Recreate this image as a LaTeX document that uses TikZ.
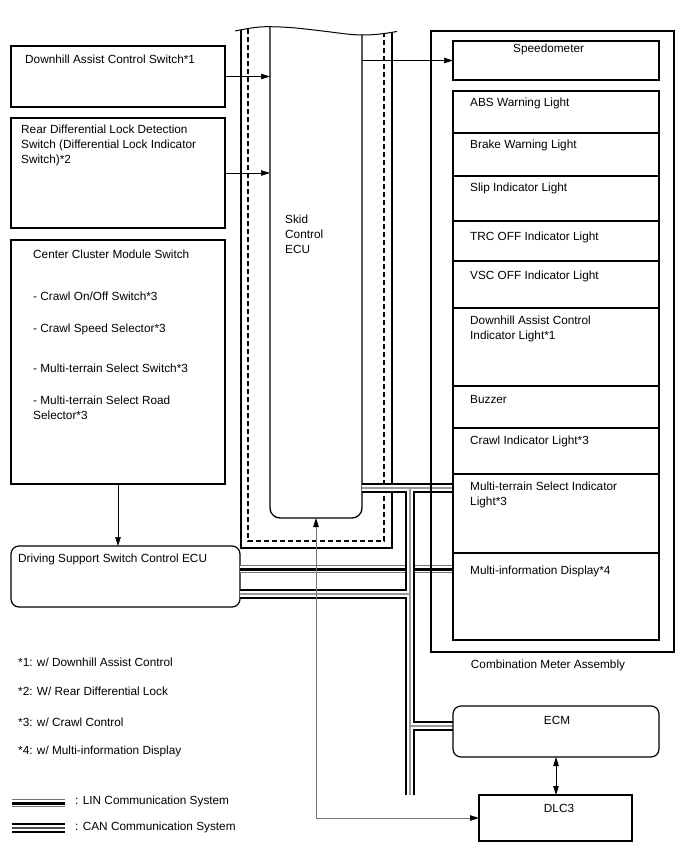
\documentclass[tikz,border=0pt]{standalone}
\usepackage{fontspec}
\setmainfont{Liberation Sans}
\usetikzlibrary{positioning,arrows.meta,calc}

\tikzset{
  box/.style={draw, line width=1.2pt, inner sep=0pt, outer sep=0pt, anchor=north west},
  rbox/.style={box, rounded corners=8pt},
  lbl/.style={inner sep=0pt, anchor=west, font=\fontsize{11.8}{14.8}\selectfont},
  mlbl/.style={lbl, anchor=north west, align=left},
  ctip/.tip={Triangle[length=9pt,width=5.5pt,color=black]},
  arr/.style={line width=0.7pt, -{ctip}},
}

\begin{document}
\begin{tikzpicture}[x=1pt,y=-1pt]
\useasboundingbox (0,0) rectangle (688,852);

% switches on the left
\node[box, minimum width=214, minimum height=61] (dacsw) at (11,46) {};
\node[box, minimum width=214, minimum height=110] (rdlsw) at (11,118) {};
\node[box, minimum width=214, minimum height=244] (ccsw) at (11,240) {};
\node[rbox, minimum width=229, minimum height=61] (dssecu) at (11,546) {};

\node[lbl] (dacswtxt) at (25,59) {Downhill Assist Control Switch*1};
\node[mlbl] (rdlswtxt) at (21,125) {Rear Differential Lock Detection\\Switch (Differential Lock Indicator\\Switch)*2};
\node[lbl] (ccswtxt) at (33,254) {Center Cluster Module Switch};
\foreach \y/\t [count=\k] in {296/{- Crawl On/Off Switch*3}, 329/{- Crawl Speed Selector*3}, 368/{- Multi-terrain Select Switch*3}} {
  \node[lbl] (ccitem\k) at (33,\y) {\t};
}
\node[mlbl] (ccitem4) at (33,396) {- Multi-terrain Select Road\\Selector*3};
\node[lbl] (dssecutxt) at (18,559) {Driving Support Switch Control ECU};

% skid control ECU
\node[inner sep=0pt, outer sep=0pt, minimum width=92, minimum height=491, anchor=north west] (skid) at (270,27) {};
\draw[line width=1.3pt] (241,29.8) -- (241,548) -- (392,548) -- (392,32.3);
\draw[line width=1.1pt, dash pattern=on 5pt off 3pt] (248,29) -- (248,541) -- (384,541) -- (384,33.5);
\draw[line width=1.3pt, rounded corners=10pt] (skid.north west) -- (skid.south west) -- (skid.south east) -- (362,35);
\draw[line width=1pt] (235,31) .. controls (250,28) and (258,26.5) .. (270,26.7) .. controls (292,27) and (305,29) .. (320,30.7) .. controls (340,33) and (350,35) .. (363,35) .. controls (377,35) and (388,33) .. (397,31.5);
\node[mlbl] (skidtxt) at (285,215) {Skid\\Control\\ECU};

% buses
\coordinate (linL) at (240,569);
\coordinate (canT) at (410,488);
\coordinate (canD) at (410,594);
\coordinate (canE) at (410,726);
\coordinate (canB) at (410,795);
\foreach \w/\c in {8.5/black!55, 6/white, 3/black} {
  \draw[line width=\w pt, \c] (dssecu.east |- linL) -- (linL -| 453,0);
}
\foreach \w/\c in {9.5/black, 6/white, 2.5/black!40} {
  \draw[line width=\w pt, \c] (skid.east |- canT) -- (canT -| 453,0)
    (canT) -- (canB) (dssecu.east |- canD) -- (canD) (canE) -- (canE -| 453,0);
}

% combination meter
\node[box, minimum width=243, minimum height=621] (meter) at (431,31) {};
\node[box, minimum width=206, minimum height=39] (speedo) at (453,41) {};
\node[box, minimum width=206, minimum height=549] (lights) at (453,91) {};
\foreach \y in {133,176,221,261,308,386,428,474,553} {
  \draw[line width=1.2pt] (lights.west |- 0,\y) -- (lights.east |- 0,\y);
}
\node[lbl] (speedotxt) at (513,49) {Speedometer};
\foreach \y/\t [count=\k] in {103/{ABS Warning Light}, 145/{Brake Warning Light}, 188/{Slip Indicator Light}, 237/{TRC OFF Indicator Light}, 276/{VSC OFF Indicator Light}, 399/{Buzzer}, 441/{Crawl Indicator Light*3}, 571/{Multi-information Display*4}} {
  \node[lbl] (light\k) at (470,\y) {\t};
}
\node[mlbl] (dacind) at (470,316) {Downhill Assist Control\\Indicator Light*1};
\node[mlbl] (mtsind) at (470,482) {Multi-terrain Select Indicator\\Light*3};
\node[lbl, anchor=center] (metertxt) at (548,665) {Combination Meter Assembly};

% ECM and DLC3
\node[rbox, minimum width=206, minimum height=51] (ecm) at (453,706) {};
\node[box, minimum width=153, minimum height=46] (dlc) at (479,795) {};
\node[lbl, anchor=center] (ecmtxt) at (557,720) {ECM};
\node[lbl, anchor=center] (dlctxt) at (559,808) {DLC3};

% arrows
\draw[arr] (dacsw.east) -- (dacsw.east -| skid.west);
\draw[arr] (rdlsw.east) -- (rdlsw.east -| skid.west);
\draw[arr] (speedo.west -| skid.east) -- (speedo.west);
\draw[arr] (ccsw.south) -- (ccsw.south |- dssecu.north);
\draw[line width=0.9pt, black!55, {ctip}-{ctip}] (skid.south) -- (skid.south |- dlc.west) -- (dlc.west);
\draw[line width=0.9pt, {ctip}-{ctip}] (ecm.south) -- (ecm.south |- dlc.north);

% notes and legend
\foreach \y/\t [count=\k] in {662/{*1: w/ Downhill Assist Control}, 691/{*2: W/ Rear Differential Lock}, 722/{*3: w/ Crawl Control}, 751/{*4: w/ Multi-information Display}} {
  \node[lbl] (note\k) at (18,\y) {\t};
}
\node[lbl] (lintxt) at (75,801) {: LIN Communication System};
\node[lbl] (cantxt) at (75,827) {: CAN Communication System};
\coordinate (linkey) at (12,803);
\coordinate (cankey) at (12,828);
\foreach \w/\c in {8.5/black!55, 6/white, 3/black} {
  \draw[line width=\w pt, \c] (linkey) -- ++(53,0);
}
\foreach \w/\c in {9.5/black, 6/white, 2.5/black!70} {
  \draw[line width=\w pt, \c] (cankey) -- ++(53,0);
}
\end{tikzpicture}
\end{document}
